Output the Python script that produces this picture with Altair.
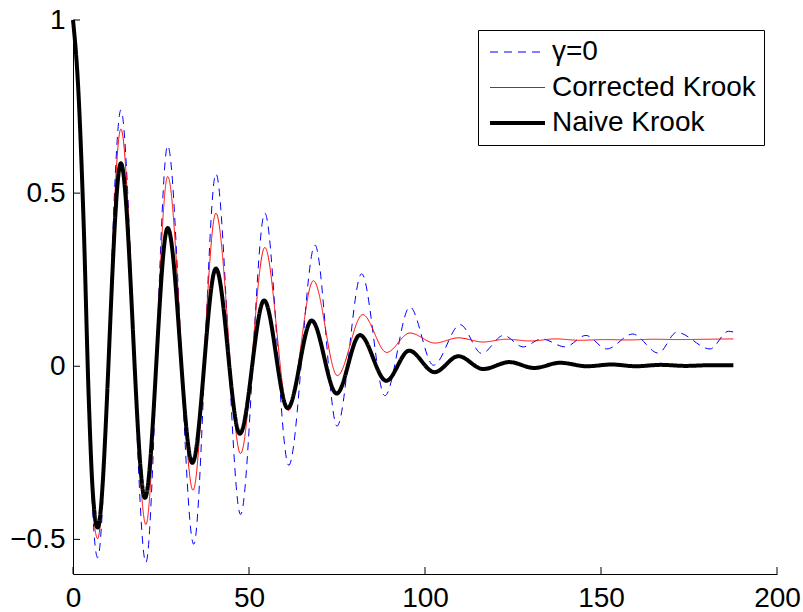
import altair as alt
import pandas as pd

# ---- data ----
series_names = ["γ=0", "Corrected Krook", "Naive Krook"]
series_colors = ["#0000ff", "#ff0000", "#000000"]
series_dash = [[8, 6], [1, 0], [1, 0]]
series_width = [1, 1, 4]

x_gamma0 = [0, 1.5, 3.0, 4.5, 5.6, 7.0, 13.6, 20.7, 26.9, 34.3, 40.6, 47.6, 54.5, 61.3,
            68.75, 75.0, 82.0, 88.6, 95.7, 102.4, 110.0, 116.1, 122.3, 127.9, 133.1,
            139.8, 145.7, 151.6, 159.0, 166.3, 171.5, 181.0, 186.2, 187.6]
y_gamma0 = [1, 0.80, 0.42, -0.12, -0.42, -0.553, 0.74, -0.567, 0.637, -0.514, 0.556, -0.428,
            0.442, -0.286, 0.35, -0.173, 0.267, -0.085, 0.171, 0.003, 0.12, 0.037, 0.089,
            0.056, 0.079, 0.056, 0.089, 0.050, 0.093, 0.038, 0.098, 0.050, 0.101, 0.099]

x_corr = [0, 1.5, 3.0, 4.5, 5.6, 7.0, 13.6, 20.7, 26.9, 34.1, 40.6, 47.6, 54.5, 61.2, 68.3,
          75.1, 82.3, 89.1, 95.7, 102.8, 109.5, 116.5, 123.0, 130.0, 137.0, 144.0, 151.0,
          158.0, 165.0, 172.0, 180.0, 187.6]
y_corr = [1, 0.80, 0.42, -0.11, -0.40, -0.498, 0.685, -0.457, 0.548, -0.358, 0.442, -0.252,
          0.343, -0.128, 0.247, -0.027, 0.149, 0.040, 0.096, 0.067, 0.082, 0.070, 0.078,
          0.073, 0.079, 0.075, 0.077, 0.076, 0.078, 0.077, 0.078, 0.079]

x_naive = [0, 1.5, 3.0, 4.5, 5.6, 7.0, 13.6, 20.45, 26.9, 33.9, 40.6, 47.4, 54.3, 61.0, 67.8,
           74.9, 81.5, 89.0, 95.5, 102.7, 109.5, 116.5, 124.0, 131.0, 138.4, 146.0, 153.0,
           160.0, 167.0, 174.0, 181.0, 187.6]
y_naive = [1, 0.80, 0.42, -0.10, -0.36, -0.466, 0.586, -0.38, 0.399, -0.279, 0.282, -0.195,
           0.19, -0.121, 0.132, -0.079, 0.09, -0.042, 0.045, -0.017, 0.029, -0.008, 0.012,
           -0.005, 0.01, 0.0, 0.005, 0.0, 0.004, 0.001, 0.003, 0.003]

x_ticks = [0, 50, 100, 150, 200]
y_ticks = [-0.5, 0, 0.5, 1]

rows = []
for name, xs, ys in zip(series_names, [x_gamma0, x_corr, x_naive], [y_gamma0, y_corr, y_naive]):
    for i, (a, b) in enumerate(zip(xs, ys)):
        rows.append({"series": name, "t": a, "value": b, "i": i})
df = pd.DataFrame(rows)

FONT = "Liberation Sans"

leg = alt.Legend(title=None, orient="none", legendX=405, legendY=10)

x_enc = alt.X("t:Q", scale=alt.Scale(domain=[0, 200], nice=False),
              axis=alt.Axis(values=x_ticks, title=None, labelPadding=10))
y_enc = alt.Y("value:Q", scale=alt.Scale(domain=[-0.6, 1], nice=False, zero=False),
              axis=alt.Axis(values=y_ticks, title=None, format=".1~f", labelPadding=8))

base = alt.Chart(df).mark_line(interpolate="monotone").encode(
    x=x_enc,
    y=y_enc,
    color=alt.Color("series:N", scale=alt.Scale(domain=series_names, range=series_colors), legend=leg),
    strokeDash=alt.StrokeDash("series:N", scale=alt.Scale(domain=series_names, range=series_dash), legend=leg),
    strokeWidth=alt.StrokeWidth("series:N", scale=alt.Scale(type="ordinal", domain=series_names, range=series_width), legend=leg),
    order="i:Q",
)

layers = [base.transform_filter(alt.datum.series == name) for name in series_names]

xt = alt.Chart(pd.DataFrame({"t": x_ticks})).mark_rule(color="black", strokeWidth=1).encode(
    x=alt.X("t:Q"), y=alt.value(554), y2=alt.value(547))
yt = alt.Chart(pd.DataFrame({"value": y_ticks})).mark_rule(color="black", strokeWidth=1).encode(
    y=alt.Y("value:Q"), x=alt.value(0), x2=alt.value(7))

chart = alt.layer(*layers, xt, yt).properties(
    width=704, height=554,
    padding={"left": 73, "top": 20, "right": 26, "bottom": 38},
    autosize=alt.AutoSizeParams(type="none"),
).configure_view(stroke=None).configure_axis(
    labelFont=FONT, labelFontSize=28, labelColor="black",
    domainColor="black", domainWidth=1, ticks=False, tickSize=0, grid=False,
    labelFlush=False, labelOverlap=False,
).configure_legend(
    strokeColor="black", fillColor="white", padding=8, cornerRadius=0,
    labelFont=FONT, labelFontSize=28, labelColor="black", labelLimit=400,
    symbolType="stroke", symbolSize=3025, clipHeight=28, rowPadding=7.5,
    symbolOffset=2, labelOffset=5,
)

chart.save("out.html", embed_options={"renderer": "svg", "actions": False})
